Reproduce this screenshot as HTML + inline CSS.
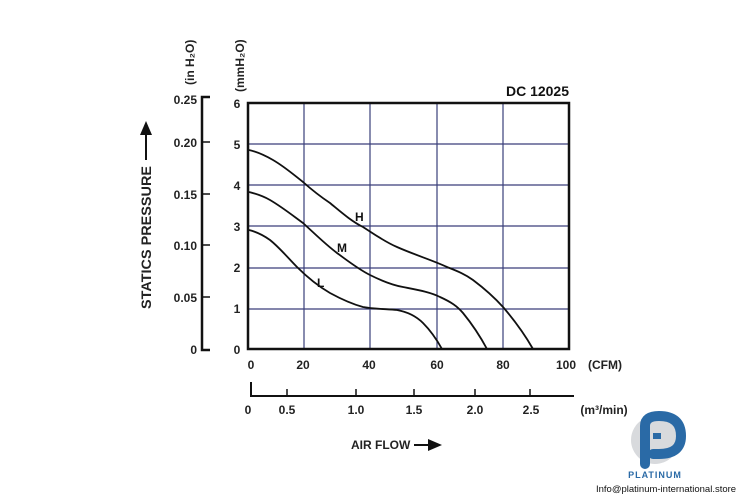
<!DOCTYPE html>
<html><head><style>body{margin:0;background:#fff}svg{display:block}</style></head><body>
<svg width="750" height="500" viewBox="0 0 750 500" xmlns="http://www.w3.org/2000/svg" font-family="Liberation Sans, Arial, sans-serif" font-weight="bold">
<rect width="750" height="500" fill="#fff"/>
<g stroke="#3a3f7a" stroke-width="1.2">
<line x1="304" y1="103" x2="304" y2="349"/><line x1="370" y1="103" x2="370" y2="349"/>
<line x1="437" y1="103" x2="437" y2="349"/><line x1="503" y1="103" x2="503" y2="349"/>
<line x1="248" y1="144" x2="569" y2="144"/><line x1="248" y1="185" x2="569" y2="185"/>
<line x1="248" y1="226" x2="569" y2="226"/><line x1="248" y1="268" x2="569" y2="268"/>
<line x1="248" y1="309" x2="569" y2="309"/>
</g>
<rect x="248" y="103" width="321" height="246" fill="none" stroke="#111" stroke-width="2.5"/>
<g fill="none" stroke="#111" stroke-width="1.8" stroke-linejoin="round">
<path d="M249,150 C258,152 266,156 273,160 C285,167 294,175 303,182 C312,190 321,197 330,203 C341,212 351,221 363,227 C374,234 385,242 397,247 C415,255 432,260 447,267 C457,271 465,274 473,280 C485,289 494,297 503,307 C515,321 525,335 533,349"/>
<path d="M249,192 C257,194 263,196 270,200 C282,207 292,215 303,223 C314,233 325,244 337,253 C348,261 358,269 370,275 C382,281 392,285 403,287 C418,290 430,292 440,297 C451,302 457,306 463,313 C472,324 480,336 487,349"/>
<path d="M249,230 C257,232 263,235 270,240 C280,248 288,258 297,267 C307,277 318,286 330,293 C341,299 352,304 363,307 C374,309 386,309 397,310 C408,312 416,316 423,323 C431,331 437,340 442,349"/>
</g>
<g font-size="12" fill="#111">
<text x="355" y="221">H</text><text x="337" y="252">M</text><text x="317" y="287">L</text>
<text x="569" y="96" text-anchor="end" font-size="14">DC 12025</text>
</g>
<g font-size="12" fill="#222" text-anchor="middle">
<text x="237" y="108">6</text><text x="237" y="149">5</text><text x="237" y="190">4</text><text x="237" y="231">3</text><text x="237" y="272">2</text><text x="237" y="313">1</text><text x="237" y="354">0</text>
<text x="251" y="369">0</text><text x="303" y="369">20</text><text x="369" y="369">40</text><text x="437" y="369">60</text><text x="503" y="369">80</text><text x="566" y="369">100</text>
<text x="605" y="369">(CFM)</text>
<text x="248" y="414">0</text><text x="287" y="414">0.5</text><text x="356" y="414">1.0</text><text x="414" y="414">1.5</text><text x="475" y="414">2.0</text><text x="531" y="414">2.5</text>
<text x="604" y="414">(m³/min)</text>
</g>
<g font-size="12" fill="#222" text-anchor="end">
<text x="197" y="104">0.25</text><text x="197" y="147">0.20</text><text x="197" y="199">0.15</text><text x="197" y="250">0.10</text><text x="197" y="302">0.05</text><text x="197" y="354">0</text>
</g>
<g stroke="#111" stroke-width="2.5" fill="none">
<path d="M210,97 H202 V350 H210"/>
</g>
<g stroke="#111" stroke-width="1.5">
<line x1="202" y1="142" x2="210" y2="142"/><line x1="202" y1="194" x2="210" y2="194"/><line x1="202" y1="245" x2="210" y2="245"/><line x1="202" y1="297" x2="210" y2="297"/>
<line x1="250" y1="396" x2="574" y2="396" stroke-width="2"/>
<line x1="251" y1="382" x2="251" y2="396" stroke-width="2"/>
<line x1="287" y1="389" x2="287" y2="396"/><line x1="356" y1="389" x2="356" y2="396"/><line x1="414" y1="389" x2="414" y2="396"/><line x1="475" y1="389" x2="475" y2="396"/><line x1="530" y1="389" x2="530" y2="396"/>
</g>
<text transform="translate(194,85) rotate(-90)" font-size="12" fill="#222">(in H₂O)</text>
<text transform="translate(244,92) rotate(-90)" font-size="12" fill="#222">(mmH₂O)</text>
<text transform="translate(151,309) rotate(-90)" font-size="13.5" fill="#222" textLength="143" lengthAdjust="spacingAndGlyphs">STATICS PRESSURE</text>
<path d="M146,160 V132" stroke="#111" stroke-width="2"/><path d="M140,135 L146,121 L152,135Z" fill="#111"/>
<text x="351" y="449" font-size="12" fill="#222">AIR FLOW</text>
<path d="M414,445 H432" stroke="#111" stroke-width="2"/><path d="M428,439 L442,445 L428,451Z" fill="#111"/>
<g transform="translate(655,440)">
<circle cx="0" cy="0" r="24" fill="#d8dadd"/>
<path d="M-10,24 V-14 Q-10,-24 4,-24 Q26,-24 26,-4 Q26,14 4,14 H-2" fill="none" stroke="#2a6aa6" stroke-width="10" stroke-linecap="round"/>
<path d="M-2,-4 H6" stroke="#2a6aa6" stroke-width="6"/>
</g>
<text x="655" y="478" font-size="9" fill="#2a6aa6" text-anchor="middle" letter-spacing="1">PLATINUM</text>
<text x="596" y="492" font-size="9.5" font-weight="normal" fill="#111">Info@platinum-international.store</text>
</svg>
</body></html>
